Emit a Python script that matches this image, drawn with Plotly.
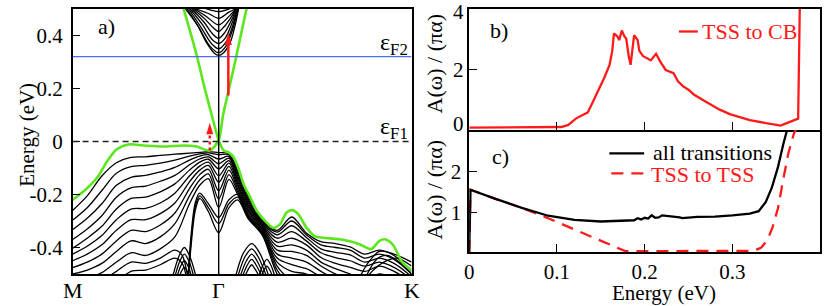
import plotly.graph_objects as go

W, H = 831, 306
FONT = "Liberation Serif, Times New Roman, Times, serif"

# ---------------- panel a: band structure data ----------------
K_GRID = [-1.0, -0.9, -0.8, -0.7, -0.6, -0.5, -0.4, -0.3, -0.2, -0.13, -0.07, 0.0,
          0.07, 0.13, 0.2, 0.3, 0.4, 0.5, 0.6, 0.7, 0.8, 0.9, 1.0, 1.1, 1.2, 1.32]

V1 = [-0.26, -0.205, -0.13, -0.08, -0.06, -0.058, -0.052, -0.048, -0.044, -0.041, -0.038, -0.042,
      -0.045, -0.11, -0.205, -0.298, -0.335, -0.285, -0.345, -0.378, -0.385, -0.398, -0.425, -0.41, -0.43, -0.49]
V2 = [-0.297, -0.25, -0.185, -0.12, -0.095, -0.09, -0.082, -0.07, -0.055, -0.047, -0.043, -0.05,
      -0.05, -0.12, -0.215, -0.303, -0.342, -0.30, -0.352, -0.39, -0.40, -0.41, -0.44, -0.425, -0.445, -0.5]
V3 = [-0.333, -0.29, -0.235, -0.165, -0.135, -0.128, -0.115, -0.098, -0.07, -0.055, -0.05, -0.066,
      -0.056, -0.13, -0.222, -0.308, -0.352, -0.318, -0.362, -0.405, -0.418, -0.428, -0.455, -0.44, -0.46, -0.51]
V4 = [-0.37, -0.33, -0.28, -0.21, -0.175, -0.168, -0.15, -0.128, -0.088, -0.066, -0.058, -0.084,
      -0.063, -0.14, -0.23, -0.313, -0.365, -0.34, -0.375, -0.42, -0.438, -0.45, -0.47, -0.455, -0.475, -0.52]
V5 = [-0.403, -0.365, -0.32, -0.255, -0.215, -0.21, -0.19, -0.16, -0.108, -0.078, -0.067, -0.103,
      -0.072, -0.15, -0.238, -0.318, -0.38, -0.365, -0.39, -0.438, -0.46, -0.475, -0.49, -0.47, -0.49, -0.53]
V6 = [-0.425, -0.395, -0.355, -0.295, -0.255, -0.252, -0.232, -0.195, -0.13, -0.093, -0.078, -0.129,
      -0.082, -0.16, -0.246, -0.323, -0.395, -0.39, -0.41, -0.455, -0.48, -0.5, -0.52, -0.5, -0.515, -0.55]
V7 = [-0.45, -0.425, -0.39, -0.335, -0.295, -0.295, -0.272, -0.232, -0.152, -0.108, -0.09, -0.154,
      -0.094, -0.17, -0.254, -0.328, -0.41, -0.415, -0.43, -0.47, -0.5, -0.52, -0.54, -0.55, -0.56, -0.57]
V8 = [-0.476, -0.455, -0.425, -0.375, -0.335, -0.34, -0.315, -0.27, -0.178, -0.125, -0.105, -0.186,
      -0.108, -0.18, -0.262, -0.333, -0.425, -0.44, -0.455, -0.49, -0.52, -0.54, -0.55, -0.56, -0.57, -0.58]
V9 = [-0.5, -0.485, -0.46, -0.415, -0.375, -0.385, -0.36, -0.31, -0.205, -0.145, -0.122, -0.217,
      -0.125, -0.19, -0.27, -0.338, -0.44, -0.465, -0.48, -0.51, -0.53, -0.55, -0.56, -0.57, -0.58, -0.59]
V10 = [-0.53, -0.515, -0.495, -0.455, -0.42, -0.43, -0.405, -0.36, -0.235, -0.165, -0.14, -0.249,
       -0.143, -0.2, -0.278, -0.343, -0.455, -0.49, -0.5, -0.53, -0.55, -0.56, -0.57, -0.58, -0.59, -0.6]
VALENCE = [V1, V2, V3, V4, V5, V6, V7, V8, V9, V10]

# deep M-shaped bands around Gamma
K_ARCH = [-0.215, -0.19, -0.16, -0.13, -0.07, 0.0, 0.07, 0.13, 0.2, 0.3, 0.4, 0.5]
A1 = [-0.56, -0.36, -0.23, -0.195, -0.235, -0.287, -0.22, -0.2, -0.28, -0.345, -0.47, -0.53]
A2 = [-0.57, -0.38, -0.245, -0.205, -0.25, -0.31, -0.235, -0.21, -0.285, -0.35, -0.485, -0.55]
A3 = [-0.58, -0.40, -0.26, -0.215, -0.265, -0.344, -0.25, -0.22, -0.29, -0.355, -0.5, -0.57]
DEEP = [A1, A2, A3]

# lower left bands
K_LOW = [-1.0, -0.9, -0.8, -0.7, -0.6, -0.5, -0.4, -0.3, -0.25, -0.2]
L1 = [-0.56, -0.545, -0.525, -0.49, -0.455, -0.46, -0.44, -0.41, -0.43, -0.56]
L2 = [-0.6, -0.58, -0.56, -0.53, -0.49, -0.485, -0.465, -0.44, -0.46, -0.58]
LOWER = [L1, L2]

# nested arcs (k, E)
ARCS_K = [
    [-0.32, -0.27, -0.235, -0.2, -0.15], [-0.305, -0.265, -0.235, -0.205, -0.165],
    [-0.29, -0.26, -0.235, -0.21, -0.18], [-0.275, -0.255, -0.235, -0.215, -0.195],
    [0.11, 0.17, 0.226, 0.28, 0.35], [0.125, 0.18, 0.226, 0.27, 0.335],
    [0.14, 0.19, 0.226, 0.262, 0.32], [0.155, 0.197, 0.226, 0.255, 0.305],
    [0.17, 0.205, 0.226, 0.247, 0.29],
    [0.27, 0.3, 0.33, 0.36, 0.39], [0.285, 0.31, 0.33, 0.35, 0.375],
    [0.95, 1.02, 1.1, 1.2, 1.32], [1.0, 1.08, 1.15, 1.25, 1.32], [0.98, 1.05, 1.13, 1.22, 1.32],
]
ARCS_E = [
    [-0.52, -0.43, -0.40, -0.43, -0.52], [-0.52, -0.45, -0.425, -0.45, -0.52],
    [-0.52, -0.47, -0.45, -0.47, -0.52], [-0.52, -0.49, -0.475, -0.49, -0.52],
    [-0.52, -0.42, -0.385, -0.42, -0.52], [-0.52, -0.435, -0.405, -0.435, -0.52],
    [-0.52, -0.45, -0.425, -0.45, -0.52], [-0.52, -0.465, -0.445, -0.465, -0.52],
    [-0.52, -0.48, -0.465, -0.48, -0.52],
    [-0.52, -0.47, -0.445, -0.47, -0.52], [-0.52, -0.485, -0.47, -0.485, -0.52],
    [-0.53, -0.46, -0.415, -0.425, -0.455], [-0.52, -0.445, -0.43, -0.46, -0.5],
    [-0.54, -0.49, -0.455, -0.44, -0.47],
]

# conduction bands (k, E)
CB_K = [
    [-0.227, -0.147, -0.08, -0.03, 0.0, 0.03, 0.08, 0.113, 0.136],
    [-0.215, -0.13, -0.06, 0.0, 0.05, 0.1, 0.132],
    [-0.205, -0.12, -0.05, 0.0, 0.05, 0.095, 0.128],
    [-0.195, -0.11, -0.045, 0.0, 0.045, 0.09, 0.125],
    [-0.185, -0.1, -0.04, 0.0, 0.04, 0.085, 0.122],
    [-0.175, -0.09, -0.035, 0.0, 0.035, 0.08, 0.12],
    [-0.165, -0.08, 0.0, 0.075, 0.117],
    [-0.155, -0.07, 0.0, 0.07, 0.115],
    [-0.14, -0.06, 0.0, 0.06, 0.11],
]
CB_E = [
    [0.5, 0.44, 0.37, 0.333, 0.325, 0.333, 0.376, 0.44, 0.5],
    [0.5, 0.425, 0.36, 0.335, 0.36, 0.43, 0.5],
    [0.5, 0.43, 0.37, 0.35, 0.375, 0.435, 0.5],
    [0.5, 0.44, 0.385, 0.37, 0.39, 0.445, 0.5],
    [0.5, 0.45, 0.405, 0.39, 0.41, 0.455, 0.5],
    [0.5, 0.46, 0.428, 0.415, 0.432, 0.465, 0.5],
    [0.5, 0.47, 0.44, 0.475, 0.5],
    [0.5, 0.483, 0.465, 0.488, 0.5],
    [0.51, 0.497, 0.49, 0.498, 0.51],
]

# topological surface state (green)
TSS_A_K = [-1.0, -0.92, -0.83, -0.76, -0.7, -0.617, -0.515, -0.38, -0.243, -0.152, -0.061, 0.0,
           0.03, 0.075, 0.12, 0.155, 0.19, 0.2]
TSS_A_E = [-0.22, -0.186, -0.135, -0.072, -0.03, -0.011, -0.015, -0.019, -0.015, -0.019, -0.034, 0.005,
           0.1, 0.21, 0.32, 0.41, 0.5, 0.53]
TSS_B_K = [-0.26, -0.24, -0.195, -0.148, -0.1, -0.048, 0.0, 0.034, 0.068, 0.102, 0.136, 0.17, 0.216,
           0.261, 0.329, 0.374, 0.42, 0.465, 0.503, 0.544, 0.601, 0.66, 0.714, 0.85, 0.964, 1.043, 1.1,
           1.136, 1.19, 1.259, 1.32]
TSS_B_E = [0.54, 0.5, 0.415, 0.32, 0.21, 0.1, 0.005, -0.034, -0.041, -0.059, -0.103, -0.16, -0.211,
           -0.261, -0.306, -0.326, -0.312, -0.268, -0.259, -0.274, -0.325, -0.358, -0.363, -0.371, -0.388,
           -0.406, -0.375, -0.369, -0.388, -0.457, -0.485]

E_F1 = 0.0
E_F2 = 0.32
K_TICKS = [-1.0, 0.0, 1.32]
K_LABELS = ["M", "Γ", "K"]
E_TICKS = [-0.4, -0.2, 0.0, 0.2, 0.4]
E_LABELS = ["-0.4", "-0.2", "0", "0.2", "0.4"]

# ---------------- panel b ----------------
B_X = [0.0, 0.1, 0.105, 0.113, 0.122, 0.131, 0.135, 0.14, 0.145, 0.15, 0.154, 0.16, 0.163, 0.165, 0.169,
       0.171, 0.174, 0.177, 0.179, 0.182, 0.184, 0.186, 0.188, 0.192, 0.194, 0.198, 0.203, 0.207, 0.213,
       0.218, 0.224, 0.228, 0.233, 0.238, 0.244, 0.25, 0.256, 0.265, 0.275, 0.285, 0.297, 0.31, 0.32,
       0.34, 0.355, 0.362, 0.372, 0.375, 0.377]
B_Y = [0.05, 0.05, 0.07, 0.14, 0.36, 0.5, 0.55, 0.85, 1.16, 1.45, 1.72, 2.15, 2.6, 3.2, 3.1,
       2.98, 3.3, 3.1, 3.03, 2.42, 2.15, 2.64, 3.14, 2.98, 2.62, 2.45, 2.37, 2.3, 2.52,
       2.25, 1.98, 1.92, 1.87, 1.6, 1.43, 1.32, 1.16, 1.0, 0.83, 0.66, 0.5, 0.38, 0.3,
       0.19, 0.12, 0.2, 0.3, 0.35, 4.3]
B_TICKS = [0, 2, 4]
B_LABELS = ["0", "2", "4"]

# ---------------- panel c ----------------
ALL_X = [0.0, 0.0015, 0.03, 0.06, 0.09, 0.12, 0.15, 0.18, 0.188, 0.192, 0.196, 0.2, 0.204, 0.208,
         0.212, 0.216, 0.22, 0.24, 0.243, 0.26, 0.28, 0.3, 0.32, 0.33, 0.338, 0.345, 0.352, 0.358, 0.363]
ALL_Y = [0.04, 1.55, 1.33, 1.11, 0.92, 0.82, 0.78, 0.79, 0.81, 0.86, 0.83, 0.87, 0.85, 0.93,
         0.87, 0.88, 0.93, 0.88, 0.86, 0.89, 0.9, 0.93, 0.97, 1.03, 1.25, 1.6, 2.1, 2.65, 3.05]
TSS_X = [0.0, 0.0015, 0.03, 0.06, 0.09, 0.12, 0.15, 0.178, 0.2, 0.25, 0.3, 0.325, 0.333, 0.34,
         0.346, 0.352, 0.358, 0.364, 0.37, 0.374]
TSS_Y = [0.04, 1.55, 1.33, 1.11, 0.86, 0.59, 0.33, 0.06, 0.06, 0.06, 0.06, 0.07, 0.15, 0.33,
         0.65, 1.1, 1.8, 2.45, 2.9, 3.1]
C_TICKS = [1, 2]
EN_TICKS = [0, 0.1, 0.2, 0.3, 0.4]
EN_LABELS = ["0", "0.1", "0.2", "0.3", "0.4"]

GREEN = "#5ce61e"
RED = "#ff1a1a"
BLUE = "#4a6cff"


def px(x):
    return x / W


def py(y):
    return 1 - y / H


fig = go.Figure()

band_line = dict(color="black", width=1.3, shape="spline", smoothing=0.9)
for band in VALENCE:
    fig.add_trace(go.Scatter(x=K_GRID, y=band, mode="lines", line=band_line, xaxis="x", yaxis="y"))
for band in DEEP:
    fig.add_trace(go.Scatter(x=K_ARCH, y=band, mode="lines", line=band_line, xaxis="x", yaxis="y"))
for band in LOWER:
    fig.add_trace(go.Scatter(x=K_LOW, y=band, mode="lines", line=band_line, xaxis="x", yaxis="y"))
for kk, ee in zip(ARCS_K, ARCS_E):
    fig.add_trace(go.Scatter(x=kk, y=ee, mode="lines", line=band_line, xaxis="x", yaxis="y"))
for kk, ee in zip(CB_K, CB_E):
    fig.add_trace(go.Scatter(x=kk, y=ee, mode="lines", line=band_line, xaxis="x", yaxis="y"))

green_line = dict(color=GREEN, width=2.6, shape="spline", smoothing=0.8)
fig.add_trace(go.Scatter(x=TSS_A_K, y=TSS_A_E, mode="lines", line=green_line, xaxis="x", yaxis="y"))
fig.add_trace(go.Scatter(x=TSS_B_K, y=TSS_B_E, mode="lines", line=green_line, xaxis="x", yaxis="y"))

# panel b
fig.add_trace(go.Scatter(x=B_X, y=B_Y, mode="lines", line=dict(color=RED, width=2.3),
                         xaxis="x2", yaxis="y2"))
# panel c
fig.add_trace(go.Scatter(x=TSS_X, y=TSS_Y, mode="lines",
                         line=dict(color=RED, width=2.3, dash="12px,8px"), xaxis="x3", yaxis="y3"))
fig.add_trace(go.Scatter(x=ALL_X, y=ALL_Y, mode="lines", line=dict(color="black", width=2.3),
                         xaxis="x3", yaxis="y3"))

fig.update_traces(showlegend=False, hoverinfo="skip")

shapes = [
    dict(type="line", xref="x", yref="y", x0=-1.0, x1=1.32, y0=E_F1, y1=E_F1,
         line=dict(color="#222", width=1.3, dash="6px,4px")),
    dict(type="line", xref="x", yref="y", x0=-1.0, x1=1.32, y0=E_F2, y1=E_F2,
         line=dict(color=BLUE, width=1.3)),
    dict(type="line", xref="x", yref="y", x0=0, x1=0, y0=-0.5, y1=0.5,
         line=dict(color="black", width=1.4)),
    # solid arrow
    dict(type="line", xref="x", yref="y", x0=0.066, x1=0.066, y0=0.174, y1=0.37,
         line=dict(color=RED, width=2.5)),
    dict(type="path", xref="x", yref="y", path="M 0.042,0.364 L 0.090,0.364 L 0.066,0.41 Z",
         fillcolor=RED, line=dict(color=RED, width=0)),
    # dotted arrow
    dict(type="line", xref="x", yref="y", x0=-0.061, x1=-0.061, y0=-0.034, y1=0.03,
         line=dict(color=RED, width=2.5, dash="dot")),
    dict(type="path", xref="x", yref="y", path="M -0.085,0.027 L -0.037,0.027 L -0.061,0.071 Z",
         fillcolor=RED, line=dict(color=RED, width=0)),
    # legend samples
    dict(type="line", xref="paper", yref="paper", x0=px(678), x1=px(697), y0=py(31.5), y1=py(31.5),
         line=dict(color=RED, width=2.3)),
    dict(type="line", xref="paper", yref="paper", x0=px(608), x1=px(643), y0=py(153.3), y1=py(153.3),
         line=dict(color="black", width=2.3)),
    dict(type="line", xref="paper", yref="paper", x0=px(610), x1=px(643), y0=py(173.3), y1=py(173.3),
         line=dict(color=RED, width=2.3, dash="12px,8px")),
]


def ann(text, x, y, size=21, color="black", xanchor="center", yanchor="middle", angle=0):
    return dict(text=text, x=px(x), y=py(y), xref="paper", yref="paper", showarrow=False,
                font=dict(family=FONT, size=size, color=color), xanchor=xanchor, yanchor=yanchor,
                textangle=angle)


annotations = [
    ann("a)", 102, 26, size=22),
    ann("b)", 497, 31, size=22),
    ann("c)", 498, 156, size=22),
    ann("ε<sub>F2</sub>", 407, 44, size=24, xanchor="right"),
    ann("ε<sub>F1</sub>", 407, 128, size=24, xanchor="right"),
    ann("Energy (eV)", 22, 135, size=21, angle=-90),
    ann("A(ω) / (πα)", 432, 64, size=22, angle=-90),
    ann("A(ω) / (πα)", 432, 190, size=22, angle=-90),
    ann("Energy (eV)", 663, 293, size=21),
    ann("TSS to CB", 699, 32, size=22, color=RED, xanchor="left"),
    ann("all transitions", 650, 152, size=22, xanchor="left"),
    ann("TSS to TSS", 648, 174, size=22, color=RED, xanchor="left"),
]
# panel b tick labels (kept off the frame edges, as in the original)
for tv, tl, yy in zip(B_TICKS, B_LABELS, [124, 70, 12]):
    annotations.append(ann(tl, 464, yy, size=21, xanchor="right"))
for kv, lab in zip(K_TICKS, K_LABELS):
    annotations.append(dict(text=lab, x=kv, y=py(290), xref="x", yref="paper", yanchor="middle",
                            xanchor="center", showarrow=False,
                            font=dict(family=FONT, size=22, color="black")))

ax_common = dict(showgrid=False, zeroline=False, showline=True, linecolor="black", linewidth=1.5,
                 mirror=True, tickfont=dict(family=FONT, size=21, color="black"),
                 ticks="inside", tickcolor="black", tickwidth=1.4, ticklen=8)

fig.update_layout(
    width=W, height=H, margin=dict(l=0, r=0, t=0, b=0),
    paper_bgcolor="white", plot_bgcolor="white", showlegend=False,
    font=dict(family=FONT),
    xaxis=dict(ax_common, domain=[px(68), px(409)], range=[-1.0, 1.32], anchor="y",
               showticklabels=False, ticks=""),
    yaxis=dict(ax_common, domain=[py(274), py(9)], range=[-0.5, 0.5], anchor="x",
               tickvals=E_TICKS, ticktext=E_LABELS, ticklabelstandoff=4),
    xaxis2=dict(ax_common, domain=[px(467), px(820)], range=[0, 0.4], anchor="y2",
                tickvals=[0.1, 0.2, 0.3], showticklabels=False),
    yaxis2=dict(ax_common, domain=[py(130), py(9)], range=[-0.03, 4.02], anchor="x2",
                tickvals=[2], showticklabels=False),
    xaxis3=dict(ax_common, domain=[px(467), px(820)], range=[0, 0.4], anchor="y3",
                tickvals=EN_TICKS, ticktext=EN_LABELS, ticklabelstandoff=0, mirror=False),
    yaxis3=dict(ax_common, domain=[py(252), py(130)], range=[0.04, 3.0], anchor="x3",
                tickvals=C_TICKS, ticklabelstandoff=2),
    shapes=shapes, annotations=annotations,
)

fig.write_html("out.html", post_script="document.body.style.margin='0px';",
               config={"displayModeBar": False})
